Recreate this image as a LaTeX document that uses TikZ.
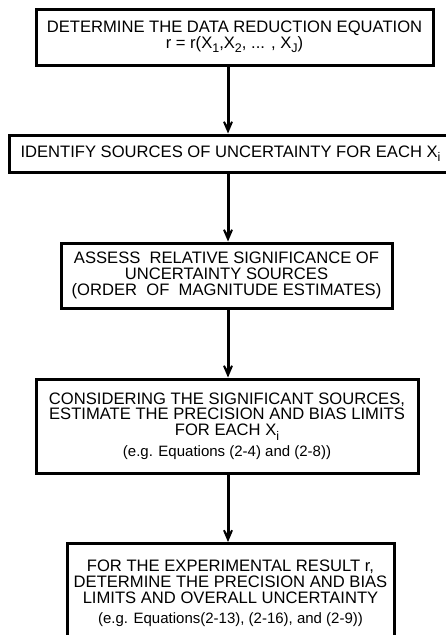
\documentclass[tikz,border=0pt]{standalone}
\usepackage{fontspec}
\setmainfont{Liberation Sans}
\usetikzlibrary{arrows.meta}
\newcommand{\idx}[1]{\raisebox{-0.5ex}{\fontsize{12.5}{12.5}\selectfont #1}}

\begin{document}
\begin{tikzpicture}[x = 1pt, y = -1pt,
	box/.style = {draw, line width = 3pt, align = center, inner sep = 0pt,
		font = \fontsize{16.6}{15.8}\selectfont},
	flow/.style = {line width = 3pt, -{Stealth[length = 21pt, width = 18pt, inset = 14pt]}}]
	%	frame
	\useasboundingbox (0, 0) rectangle (446, 635);
	\clip (0, 0) rectangle (446, 635);
	
	%	axis of the arrows
	\coordinate (axis) at (228, 0);
	
	%	steps
	\node[box, minimum width = 397, minimum height = 56] (det) at (234.5, 37)
		{DETERMINE THE DATA REDUCTION EQUATION\\ r = r(X\idx{1},X\idx{2}, ... , X\idx{J})};
	\node[box, minimum width = 443, minimum height = 37] (ident) at (230.5, 153.5)
		{IDENTIFY SOURCES OF UNCERTAINTY FOR EACH X\idx{i}};
	\node[box, minimum width = 331, minimum height = 65] (assess) at (226.5, 275.5)
		{ASSESS\ \ RELATIVE SIGNIFICANCE OF\\ UNCERTAINTY SOURCES\\ (ORDER\ \ OF\ \ MAGNITUDE ESTIMATES)};
	\node[box, minimum width = 382, minimum height = 94] (estim) at (227, 426)
		{CONSIDERING THE SIGNIFICANT SOURCES,\\ ESTIMATE THE PRECISION AND BIAS LIMITS\\ FOR EACH X\idx{i}\\[5pt]
		{\fontsize{15}{15}\selectfont (e.g. Equations (2-4) and (2-8))}};
	\node[box, minimum width = 327, minimum height = 100, anchor = north] (result) at (230.5, 542)
		{FOR THE EXPERIMENTAL RESULT r,\\ DETERMINE THE PRECISION AND BIAS\\ LIMITS AND OVERALL UNCERTAINTY\\[5pt]
		{\fontsize{15}{15}\selectfont (e.g. Equations(2-13), (2-16), and (2-9))}};
	
	%	arrows
	\draw[flow] (det.south -| axis) -- (ident.north -| axis);
	\draw[flow] (ident.south -| axis) -- (assess.north -| axis);
	\draw[flow] (assess.south -| axis) -- (estim.north -| axis);
	\draw[flow] (estim.south -| axis) -- (result.north -| axis);
\end{tikzpicture}
\end{document}
